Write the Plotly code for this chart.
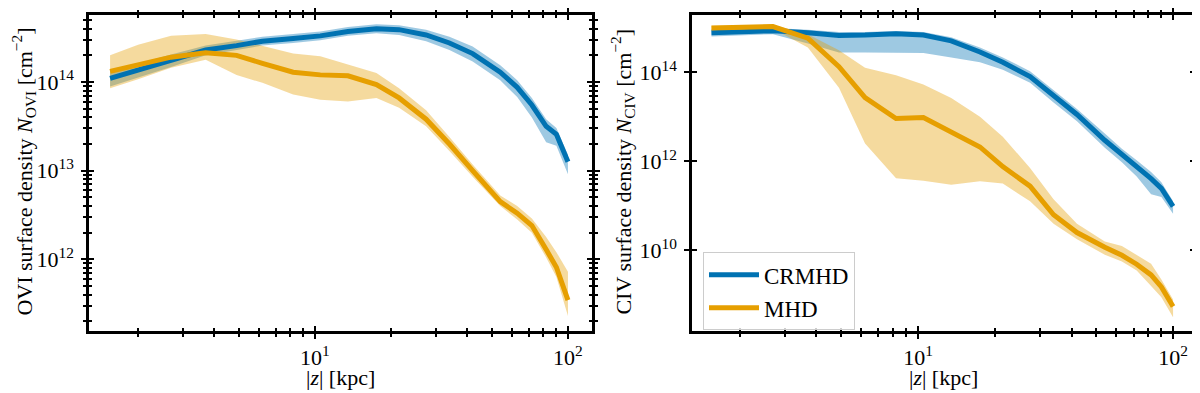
import numpy as np
import plotly.graph_objects as go

# |z| sample points in kpc (both panels)
z_kpc = [1.55, 2.0, 2.7, 3.7, 4.9, 6.2, 8.2, 10.5, 13.5, 17.5, 21.5, 27.5,
         34, 42, 54, 63, 72, 82, 90, 100]

# log10 of column densities [cm^-2]
ovi_crmhd = [14.04, 14.13, 14.24, 14.36, 14.41, 14.46, 14.49, 14.52, 14.57, 14.60,
             14.59, 14.53, 14.44, 14.32, 14.11, 13.94, 13.74, 13.50, 13.41, 13.10]
ovi_crmhd_lo = [13.95, 14.05, 14.17, 14.30, 14.36, 14.41, 14.44, 14.47, 14.52, 14.55,
                14.53, 14.46, 14.36, 14.23, 14.02, 13.83, 13.60, 13.32, 13.28, 12.96]
ovi_crmhd_hi = [14.12, 14.21, 14.31, 14.41, 14.46, 14.51, 14.54, 14.57, 14.62, 14.65,
                14.64, 14.59, 14.51, 14.40, 14.19, 14.02, 13.82, 13.58, 13.48, 13.18]

ovi_mhd = [14.12, 14.19, 14.28, 14.33, 14.30, 14.21, 14.11, 14.08, 14.07, 13.97,
           13.82, 13.58, 13.30, 13.00, 12.65, 12.52, 12.38, 12.11, 11.91, 11.54]
ovi_mhd_lo = [13.93, 14.03, 14.16, 14.25, 14.08, 13.99, 13.86, 13.80, 13.78, 13.82,
              13.71, 13.50, 13.22, 12.93, 12.60, 12.45, 12.30, 12.02, 11.80, 11.36]
ovi_mhd_hi = [14.30, 14.42, 14.52, 14.54, 14.48, 14.41, 14.32, 14.29, 14.20, 14.10,
              13.93, 13.68, 13.38, 13.07, 12.72, 12.60, 12.46, 12.25, 12.08, 11.86]

civ_crmhd = [14.88, 14.90, 14.93, 14.88, 14.82, 14.83, 14.86, 14.83, 14.70, 14.45,
             14.22, 13.90, 13.46, 13.05, 12.47, 12.15, 11.90, 11.61, 11.39, 10.99]
civ_crmhd_lo = [14.80, 14.82, 14.85, 14.64, 14.44, 14.44, 14.44, 14.43, 14.33, 14.22,
                14.05, 13.76, 13.32, 12.90, 12.30, 11.98, 11.66, 11.26, 11.20, 10.82]
civ_crmhd_hi = [14.96, 14.97, 14.99, 14.95, 14.90, 14.90, 14.92, 14.90, 14.78, 14.55,
                14.33, 14.02, 13.60, 13.17, 12.62, 12.28, 12.02, 11.76, 11.53, 11.10]

civ_mhd = [14.99, 15.00, 15.02, 14.76, 14.12, 13.43, 12.96, 12.98, 12.65, 12.32,
           11.88, 11.44, 10.80, 10.40, 10.07, 9.89, 9.69, 9.45, 9.18, 8.74]
civ_mhd_lo = [14.94, 14.95, 14.97, 14.55, 13.65, 12.40, 11.62, 11.56, 11.47, 11.55,
              11.50, 11.10, 10.60, 10.25, 9.90, 9.75, 9.55, 9.20, 8.95, 8.50]
civ_mhd_hi = [15.04, 15.05, 15.06, 14.85, 14.49, 14.10, 13.93, 13.72, 13.42, 13.00,
              12.55, 11.85, 11.15, 10.60, 10.20, 10.10, 9.90, 9.70, 9.35, 8.90]

series_names = ["CRMHD", "MHD"]
x_tickvals = [10, 100]
x_ticktext = ["10<sup>1</sup>", "10<sup>2</sup>"]
ovi_tickvals = [1e12, 1e13, 1e14]
ovi_ticktext = ["10<sup>12</sup>", "10<sup>13</sup>", "10<sup>14</sup>"]
civ_tickvals = [1e10, 1e12, 1e14]
civ_ticktext = ["10<sup>10</sup>", "10<sup>12</sup>", "10<sup>14</sup>"]

BLUE = "#0072B2"
ORANGE = "#E69F00"
BLUE_FILL = "rgba(0,114,178,0.38)"
ORANGE_FILL = "rgba(230,159,0,0.38)"
FONT = "Liberation Serif"

W, H = 1200, 393
OFF = 8  # page body margin offset


def p(v):
    return 10 ** np.array(v)


fig = go.Figure()

panels = [
    ("x", "y", [(ovi_crmhd, ovi_crmhd_lo, ovi_crmhd_hi), (ovi_mhd, ovi_mhd_lo, ovi_mhd_hi)]),
    ("x2", "y2", [(civ_crmhd, civ_crmhd_lo, civ_crmhd_hi), (civ_mhd, civ_mhd_lo, civ_mhd_hi)]),
]
colors = [BLUE, ORANGE]
fills = [BLUE_FILL, ORANGE_FILL]

for xa, ya, data in panels:
    # shaded bands
    for (mid, lo, hi), fc in zip(data, fills):
        fig.add_trace(go.Scatter(x=z_kpc, y=p(hi), mode="lines", line=dict(width=0),
                                 xaxis=xa, yaxis=ya, showlegend=False, hoverinfo="skip"))
        fig.add_trace(go.Scatter(x=z_kpc, y=p(lo), mode="lines", line=dict(width=0),
                                 fill="tonexty", fillcolor=fc,
                                 xaxis=xa, yaxis=ya, showlegend=False, hoverinfo="skip"))
    # median lines
    for (mid, lo, hi), c, name in zip(data, colors, series_names):
        fig.add_trace(go.Scatter(x=z_kpc, y=p(mid), mode="lines", name=name,
                                 line=dict(color=c, width=5),
                                 xaxis=xa, yaxis=ya, showlegend=(xa == "x2"),
                                 legendgroup=name))

# empty traces so the overlay (inward tick) axes get drawn
fig.add_trace(go.Scatter(x=[], y=[], xaxis="x3", yaxis="y3", showlegend=False))
fig.add_trace(go.Scatter(x=[], y=[], xaxis="x4", yaxis="y4", showlegend=False))

xminor = [m * 10 ** e for e in range(0, 3) for m in range(2, 10)]
ovi_minor = [m * 10 ** e for e in range(11, 15) for m in range(2, 10)]

dom_left = [(89 - OFF) / W, (592 - OFF) / W]
dom_right = [(692 - OFF) / W, (1195 - OFF) / W]
dom_y = [1 - (330 - OFF) / H, 1 - 1.5 / H]
xr_left = [0.107, 2.095]
xr_right = [0.114, 2.086]
yr_left = [11.19, 14.75]
yr_right = [8.19, 15.27]


def xax(dom, rng, anchor, outer, overlay=None):
    d = dict(type="log", domain=dom, range=rng, anchor=anchor,
             tickmode="array", tickvals=x_tickvals, ticktext=x_ticktext,
             showgrid=False, zeroline=False, ticks="outside" if outer else "inside",
             ticklen=5, tickwidth=2, tickcolor="black", mirror="ticks",
             minor=dict(tickmode="array", tickvals=xminor, ticks="outside" if outer else "inside",
                        ticklen=3, tickwidth=1.5, tickcolor="black", showgrid=False),
             tickfont=dict(family=FONT, size=22, color="black"))
    if outer:
        d.update(showline=True, linewidth=2.5, linecolor="black")
    else:
        d.update(showline=False, showticklabels=False, overlaying=overlay)
    return d


def yax(dom, rng, anchor, outer, tv, tt, minor_vals, overlay=None):
    d = dict(type="log", domain=dom, range=rng, anchor=anchor,
             tickmode="array", tickvals=tv, ticktext=tt,
             showgrid=False, zeroline=False, ticks="outside" if outer else "inside",
             ticklen=5, tickwidth=2, tickcolor="black", mirror="ticks",
             tickfont=dict(family=FONT, size=22, color="black"))
    if minor_vals:
        d["minor"] = dict(tickmode="array", tickvals=minor_vals,
                          ticks="outside" if outer else "inside",
                          ticklen=3, tickwidth=1.5, tickcolor="black", showgrid=False)
    if outer:
        d.update(showline=True, linewidth=2.5, linecolor="black", ticklabelstandoff=3)
    else:
        d.update(showline=False, showticklabels=False, overlaying=overlay)
    return d


fig.update_layout(
    width=W, height=H,
    margin=dict(l=0, r=0, t=0, b=0),
    paper_bgcolor="white", plot_bgcolor="rgba(0,0,0,0)",
    font=dict(family=FONT, size=20, color="black"),
    xaxis=xax(dom_left, xr_left, "y", True),
    yaxis=yax(dom_y, yr_left, "x", True, ovi_tickvals, ovi_ticktext, ovi_minor),
    xaxis2=xax(dom_right, xr_right, "y2", True),
    yaxis2=yax(dom_y, yr_right, "x2", True, civ_tickvals, civ_ticktext, None),
    xaxis3=xax(dom_left, xr_left, "y3", False, overlay="x"),
    yaxis3=yax(dom_y, yr_left, "x3", False, ovi_tickvals, ovi_ticktext, ovi_minor, overlay="y"),
    xaxis4=xax(dom_right, xr_right, "y4", False, overlay="x2"),
    yaxis4=yax(dom_y, yr_right, "x4", False, civ_tickvals, civ_ticktext, None, overlay="y2"),
    legend=dict(x=(703 - OFF) / W, y=1 - (250 - OFF) / H, xanchor="left", yanchor="top",
                bgcolor="rgba(255,255,255,0.8)", bordercolor="#cccccc", borderwidth=1,
                font=dict(family=FONT, size=23, color="black"),
                itemwidth=50, tracegroupgap=0),
    showlegend=True,
)

annots = [
    dict(x=(24 - OFF) / W, y=1 - (168 - OFF) / H, textangle=-90,
         text="OVI surface density <i>N</i><sub>OVI</sub> [cm<sup>\u22122</sup>]"),
    dict(x=(623 - OFF) / W, y=1 - (168 - OFF) / H, textangle=-90,
         text="CIV surface density <i>N</i><sub>CIV</sub> [cm<sup>\u22122</sup>]"),
    dict(x=(340 - OFF) / W, y=1 - (377 - OFF) / H, text="|<i>z</i>| [kpc]"),
    dict(x=(943 - OFF) / W, y=1 - (377 - OFF) / H, text="|<i>z</i>| [kpc]"),
]
for a in annots:
    fig.add_annotation(xref="paper", yref="paper", showarrow=False,
                       xanchor="center", yanchor="middle",
                       font=dict(family=FONT, size=22, color="black"), **a)

fig.write_html("out.html")
